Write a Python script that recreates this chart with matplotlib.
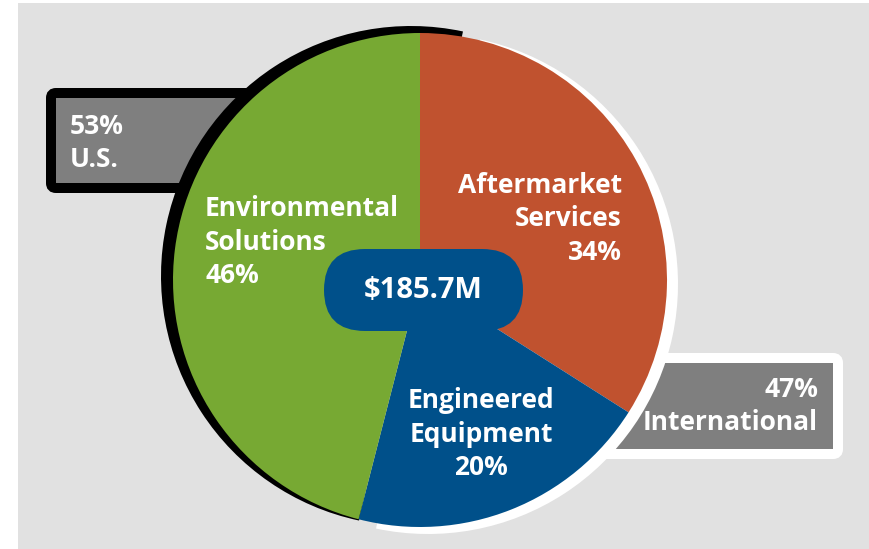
import matplotlib.pyplot as plt
from matplotlib.patches import FancyBboxPatch, Wedge, Rectangle

plt.rcParams['font.family'] = ['Open Sans', 'DejaVu Sans']

# data
segments = ['Aftermarket\nServices', 'Engineered\nEquipment', 'Environmental\nSolutions']
shares = [34, 20, 46]
colors = ['#C0522F', '#00508A', '#77A933']
total_label = '$185.7M'
regions = ['U.S.', 'International']
region_shares = [53, 47]

W, H = 869, 549
fig = plt.figure(figsize=(W / 100, H / 100), dpi=100)
ax = fig.add_axes([0, 0, 1, 1])

def Y(y):
    # image pixel row -> data y (y up)
    return H - y

# grey panel
ax.add_patch(Rectangle((18, 0), W - 18, Y(3), facecolor='#E1E1E1', edgecolor='none', zorder=0))

cx, cy, r = 420, Y(280), 247

# region boxes (drawn behind the pie)
ax.add_patch(FancyBboxPatch((51, Y(188)), 260, 95, boxstyle='round,pad=0,rounding_size=5',
                            facecolor='#7F7F7F', edgecolor='black', linewidth=7.2, zorder=1))
ax.add_patch(FancyBboxPatch((560, Y(454)), 278, 96, boxstyle='round,pad=0,rounding_size=5',
                            facecolor='#7F7F7F', edgecolor='white', linewidth=7.2, zorder=1))

# offset black / white rims
ax.add_patch(Wedge((cx - 9, cy + 4), r + 3, 78, 258, facecolor='black', edgecolor='none', zorder=2))
ax.add_patch(Wedge((cx + 8, cy - 4), r + 3, -102, 78, facecolor='white', edgecolor='none', zorder=2))

wedges, _ = ax.pie(shares, colors=colors, startangle=90, counterclock=False,
                   center=(cx, cy), radius=r, frame=True,
                   wedgeprops=dict(linewidth=0))
for w in wedges:
    w.set_zorder(3)

txt = dict(color='white', fontweight='bold', fontsize=19, zorder=5, linespacing=1.3)
ax.text(622, Y(219), f'{segments[0]}\n{shares[0]}%', ha='right', va='center', **txt)
ax.text(481, Y(434), f'{segments[1]}\n{shares[1]}%', ha='center', va='center', **txt)
ax.text(205, Y(242), f'{segments[2]}\n{shares[2]}%', ha='left', va='center', **txt)

ax.text(70, Y(143), f'{region_shares[0]}%\n{regions[0]}', ha='left', va='center', **txt)
ax.text(818, Y(406), f'{region_shares[1]}%\n{regions[1]}', ha='right', va='center', **txt)

# centre pill
ax.add_patch(FancyBboxPatch((324, Y(331)), 199, 82, boxstyle='round,pad=0,rounding_size=41',
                            facecolor='#00508A', edgecolor='none', zorder=4))
ax.text(423, Y(291), total_label, ha='center', va='center', color='white',
        fontweight='bold', fontsize=21, zorder=5)

ax.set_xlim(0, W)
ax.set_ylim(0, H)
ax.set_aspect('equal')
ax.axis('off')
fig.savefig('out.png', dpi=100)
